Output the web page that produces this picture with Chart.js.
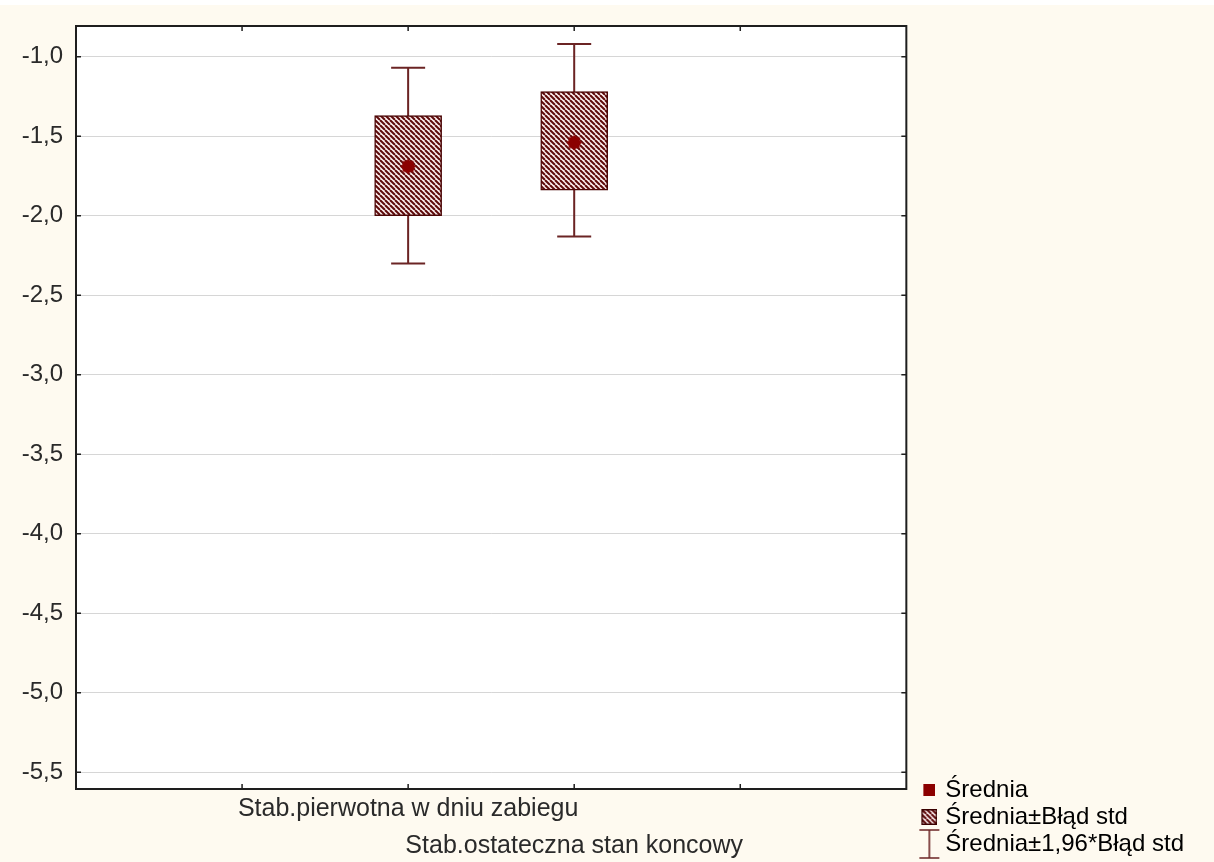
<!DOCTYPE html>
<html>
<head>
<meta charset="utf-8">
<script src="https://cdn.jsdelivr.net/npm/chart.js@4.4.1/dist/chart.umd.min.js"></script>
<style>
  html, body { margin: 0; padding: 0; background: #ffffff; }
  #wrap { position: absolute; left: 0; top: 5px; width: 1214px; height: 857px; background: #fefaf0; }
</style>
</head>
<body>
<div id="wrap"><canvas id="chart" width="1214" height="857"></canvas></div>
<script>
// data
const variables = ['Stab.pierwotna w dniu zabiegu', 'Stab.ostateczna stan koncowy'];
const means = [-1.69, -1.54];
const seLow = [-2.00, -1.84];
const seHigh = [-1.37, -1.22];
const ciLow = [-2.30, -2.13];
const ciHigh = [-1.07, -0.92];
const yTicks = [-5.5, -5.0, -4.5, -4.0, -3.5, -3.0, -2.5, -2.0, -1.5, -1.0];
const xLabels = ['', ''].concat(variables).concat(['', '']);
const legendLabels = ['Średnia', 'Średnia±Błąd std', 'Średnia±1,96*Błąd std'];

const DARK = '#4a0505';
const MEAN_COLOR = '#8b0000';
const WHISKER = '#6b2424';
const FONT = "'Liberation Sans', Arial, sans-serif";
const ICON_SHIFT = 16; // transparent margin so legend icons sit a bit to the right

function makeCanvas(w, h) {
    const c = document.createElement('canvas');
    c.width = w; c.height = h;
    return c;
}

// hatch tile, lines going down to the right
function hatchTile() {
    const p = 5;
    const c = makeCanvas(p, p);
    const g = c.getContext('2d');
    g.fillStyle = '#fcefef';
    g.fillRect(0, 0, p, p);
    g.strokeStyle = '#5e0a0a';
    g.lineWidth = 2;
    for (let k = -1; k <= 1; k++) {
        g.beginPath();
        g.moveTo(k * p, 0);
        g.lineTo(k * p + p, p);
        g.stroke();
    }
    return c;
}

function meanMarker() {
    const c = makeCanvas(18, 18);
    const g = c.getContext('2d');
    g.fillStyle = MEAN_COLOR;
    g.fillRect(3.5, 3.5, 11, 11);
    g.translate(9, 9);
    g.rotate(Math.PI / 4);
    g.fillRect(-5.5, -5.5, 11, 11);
    return c;
}

function legendSquare() {
    const c = makeCanvas(12 + ICON_SHIFT, 12);
    const g = c.getContext('2d');
    g.fillStyle = MEAN_COLOR;
    g.fillRect(ICON_SHIFT, 0, 12, 12);
    return c;
}

function legendHatch() {
    const c = makeCanvas(16 + ICON_SHIFT, 16);
    const g = c.getContext('2d');
    g.translate(ICON_SHIFT, 0);
    g.fillStyle = g.createPattern(hatchTile(), 'repeat');
    g.fillRect(0, 0, 16, 16);
    g.strokeStyle = '#3a0000';
    g.lineWidth = 1.5;
    g.strokeRect(0.75, 0.75, 14.5, 14.5);
    return c;
}

function legendWhisker() {
    const c = makeCanvas(22 + ICON_SHIFT, 30);
    const g = c.getContext('2d');
    g.translate(ICON_SHIFT, 0);
    g.strokeStyle = WHISKER;
    g.lineWidth = 1.6;
    g.beginPath();
    g.moveTo(1, 1); g.lineTo(21, 1);
    g.moveTo(11, 1); g.lineTo(11, 29);
    g.moveTo(1, 29); g.lineTo(21, 29);
    g.stroke();
    return c;
}

const ctx = document.getElementById('chart').getContext('2d');
const hatch = ctx.createPattern(hatchTile(), 'repeat');
const legendIcons = [legendSquare(), legendHatch(), legendWhisker()];

const plotBackground = {
    id: 'plotBackground',
    beforeDraw(chart) {
        const a = chart.chartArea;
        const c = chart.ctx;
        c.save();
        c.fillStyle = '#ffffff';
        c.fillRect(a.left, a.top, a.right - a.left, a.bottom - a.top);
        c.restore();
    }
};

const whiskers = {
    id: 'whiskers',
    beforeDatasetsDraw(chart) {
        const x = chart.scales.x, y = chart.scales.y, c = chart.ctx;
        c.save();
        c.strokeStyle = WHISKER;
        c.lineWidth = 2;
        variables.forEach((v, i) => {
            const px = x.getPixelForValue(xLabels.indexOf(v));
            const top = y.getPixelForValue(ciHigh[i]);
            const bot = y.getPixelForValue(ciLow[i]);
            c.beginPath();
            c.moveTo(px, top); c.lineTo(px, bot);
            c.moveTo(px - 17, top); c.lineTo(px + 17, top);
            c.moveTo(px - 17, bot); c.lineTo(px + 17, bot);
            c.stroke();
        });
        c.restore();
    }
};

const frame = {
    id: 'frame',
    afterDatasetsDraw(chart) {
        const a = chart.chartArea, c = chart.ctx;
        const x = chart.scales.x, y = chart.scales.y;
        c.save();
        c.strokeStyle = '#1e1e1e';
        c.lineWidth = 1.5;
        c.beginPath();
        yTicks.forEach(v => {
            const py = y.getPixelForValue(v);
            c.moveTo(a.left, py); c.lineTo(a.left + 5, py);
            c.moveTo(a.right - 5, py); c.lineTo(a.right, py);
        });
        for (let i = 1; i < xLabels.length - 1; i++) {
            const px = x.getPixelForValue(i);
            c.moveTo(px, a.top); c.lineTo(px, a.top + 5);
            c.moveTo(px, a.bottom - 5); c.lineTo(px, a.bottom);
        }
        c.stroke();
        c.lineWidth = 2;
        c.strokeRect(a.left, a.top, a.right - a.left, a.bottom - a.top);
        c.restore();
    }
};

new Chart(ctx, {
    type: 'bar',
    data: {
        labels: xLabels,
        datasets: [
            {
                type: 'line',
                label: legendLabels[0],
                data: variables.map((v, i) => ({ x: v, y: means[i] })),
                showLine: false,
                pointStyle: meanMarker(),
                order: 0
            },
            {
                label: legendLabels[1],
                data: variables.map((v, i) => ({ x: v, y: [seLow[i], seHigh[i]] })),
                backgroundColor: hatch,
                borderColor: DARK,
                borderWidth: 1.5,
                borderSkipped: false,
                barThickness: 67,
                grouped: false,
                order: 1
            }
        ]
    },
    options: {
        responsive: false,
        animation: false,
        events: [],
        layout: { padding: { top: 21, left: 0, right: 20, bottom: 3 } },
        scales: {
            x: {
                type: 'category',
                offset: false,
                grid: { display: false, drawTicks: false },
                border: { display: false },
                ticks: {
                    autoSkip: false,
                    maxRotation: 0,
                    minRotation: 0,
                    padding: 2,
                    color: '#2a2a2a',
                    font: { family: FONT, size: 25, lineHeight: 1.48 },
                    callback: function (value, index) {
                        const v = xLabels[index];
                        return variables.indexOf(v) % 2 === 1 ? ['', v] : v;
                    }
                },
                afterFit: scale => { scale.height = 70; }
            },
            y: {
                min: -5.605,
                max: -0.807,
                grid: { color: '#d6d6d6', lineWidth: 1, drawTicks: false },
                border: { display: false },
                afterBuildTicks: scale => { scale.ticks = yTicks.map(v => ({ value: v })); },
                ticks: {
                    padding: 13,
                    color: '#2a2a2a',
                    font: { family: FONT, size: 24 },
                    callback: v => v.toFixed(1).replace('.', ',')
                },
                afterFit: scale => {
                    scale.width = 76;
                    scale.paddingTop = 0;
                    scale.paddingBottom = 0;
                }
            }
        },
        plugins: {
            tooltip: { enabled: false },
            legend: {
                position: 'right',
                align: 'end',
                labels: {
                    usePointStyle: true,
                    padding: 3,
                    color: '#303030',
                    font: { family: FONT, size: 24 },
                    generateLabels: () => legendLabels.map((t, i) => ({
                        text: t,
                        pointStyle: legendIcons[i],
                        fillStyle: MEAN_COLOR,
                        strokeStyle: DARK,
                        lineWidth: 0,
                        hidden: false,
                        datasetIndex: i
                    }))
                }
            }
        }
    },
    plugins: [plotBackground, whiskers, frame]
});
</script>
</body>
</html>
